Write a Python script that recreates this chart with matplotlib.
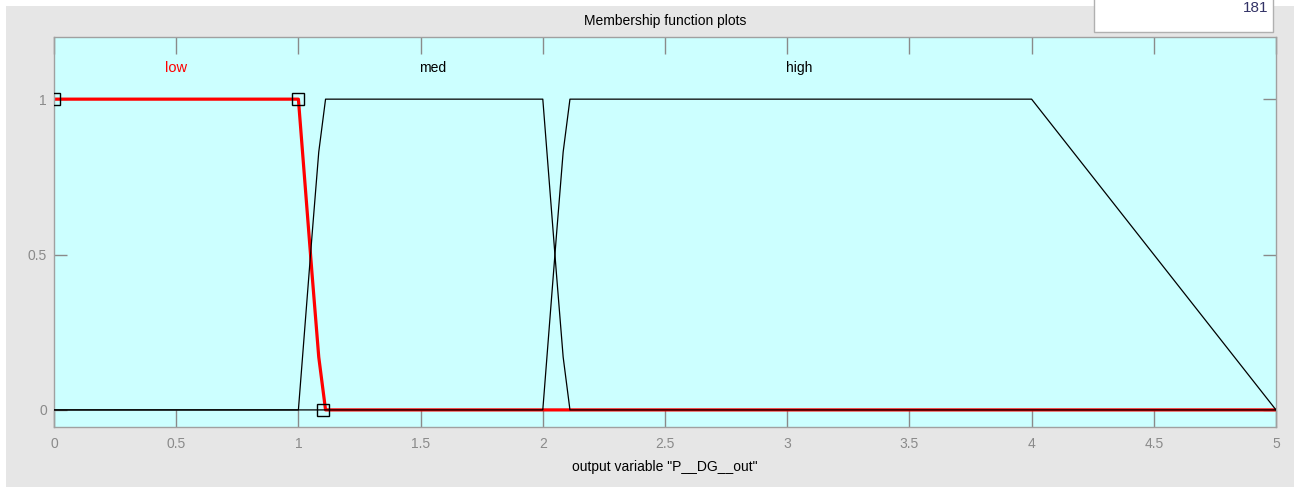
import matplotlib.pyplot as plt
from matplotlib.patches import Rectangle

plt.rcParams['font.family'] = ['Liberation Sans', 'DejaVu Sans']

low_x = [0, 1.0, 1.0278, 1.0556, 1.0833, 1.1111, 5]
low_y = [1, 1, 0.72, 0.44, 0.17, 0, 0]

med_x = [0, 1.0, 1.0278, 1.0556, 1.0833, 1.1111, 2.0, 2.0278, 2.0556, 2.0833, 2.1111, 5]
med_y = [0, 0, 0.28, 0.56, 0.83, 1, 1, 0.72, 0.44, 0.17, 0, 0]

high_x = [0, 2.0, 2.0278, 2.0556, 2.0833, 2.1111, 4.0, 5]
high_y = [0, 0, 0.28, 0.56, 0.83, 1, 1, 0]

# handles of the selected mf (low)
handle_x = [0, 1.0, 1.1]
handle_y = [1, 1, 0]

mf_names = ['low', 'med', 'high']
mf_label_x = [0.5, 1.55, 3.05]
mf_label_y = 1.1

x_ticks = [0, 0.5, 1, 1.5, 2, 2.5, 3, 3.5, 4, 4.5, 5]
x_ticklabels = ['0', '0.5', '1', '1.5', '2', '2.5', '3', '3.5', '4', '4.5', '5']
y_ticks = [0, 0.5, 1]
y_ticklabels = ['0', '0.5', '1']

grey = '#e6e6e6'
cyan = '#ccffff'
tick_grey = '#8a8a8a'

fig = plt.figure(figsize=(12.94, 4.87), dpi=100, facecolor='white')
fig.patches.append(Rectangle((6 / 1294, 0), 1, 1 - 6 / 487, transform=fig.transFigure,
                             facecolor=grey, edgecolor='none', zorder=-10))
# white box in the top-right corner (counter text cut off at the top)
fig.patches.append(Rectangle((1094 / 1294, 1 - 32 / 487), 179 / 1294, 40 / 487,
                             transform=fig.transFigure, facecolor='white',
                             edgecolor='#b0b0b0', linewidth=1, zorder=-5))
fig.text(1268 / 1294, 1 - 12 / 487, '181', ha='right', va='baseline',
         fontsize=11, color='#333366')

ax = fig.add_axes([54 / 1294, 1 - 427 / 487, 1222 / 1294, 390 / 487])
ax.set_facecolor(cyan)

ax.plot(low_x, low_y, color='red', linewidth=2.3, zorder=2, solid_joinstyle='round')
ax.plot(med_x, med_y, color='black', linewidth=0.9, zorder=3)
ax.plot(high_x, high_y, color='black', linewidth=0.9, zorder=3)
ax.plot(handle_x, handle_y, linestyle='none', marker='s', markersize=8,
        markerfacecolor='none', markeredgecolor='black', markeredgewidth=1.0, zorder=4)

label_colors = ['red', 'black', 'black']
for name, lx, c in zip(mf_names, mf_label_x, label_colors):
    ax.text(lx, mf_label_y, name, ha='center', va='center', fontsize=10.5 if c == 'red' else 10,
            color=c)

ax.set_xlim(0, 5)
ax.set_ylim(-0.055, 1.2)
ax.set_xticks(x_ticks)
ax.set_xticklabels(x_ticklabels)
ax.set_yticks(y_ticks)
ax.set_yticklabels(y_ticklabels)

ax.tick_params(axis='x', direction='in', length=12, width=1, color=tick_grey,
               labelcolor=tick_grey, labelsize=10, pad=7, top=True)
ax.tick_params(axis='y', direction='in', length=9.5, width=1, color=tick_grey,
               labelcolor=tick_grey, labelsize=10, pad=5, right=True)
for sp in ax.spines.values():
    sp.set_color('#a0a0a0')
    sp.set_linewidth(1)

ax.set_title('Membership function plots', fontsize=10, pad=9, color='black')
ax.set_xlabel('output variable "P__DG__out"', fontsize=10, labelpad=7, color='black')

fig.savefig('out.png', dpi=100, facecolor=fig.get_facecolor())
